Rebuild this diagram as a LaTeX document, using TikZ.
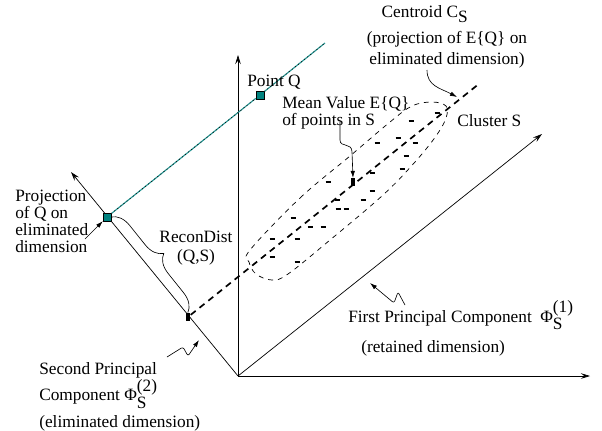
\documentclass[tikz,border=0pt]{standalone}
\usepackage{fontspec}
\setmainfont{Liberation Serif}
\usetikzlibrary{arrows.meta,decorations.pathreplacing,calc}
\definecolor{qteal}{HTML}{00827F}
\newcommand{\PhiS}[1]{Φ$^{\mbox{(#1)}}_{\mbox{S}}$}
\tikzset{
  axis/.style={draw=black, line width=0.5pt, -{Stealth[length=6.5pt,width=4pt,inset=2.5pt]}},
  ann/.style={line width=0.45pt, -{Latex[length=5pt,width=3.2pt]}},
  lbl/.style={inner sep=0pt, font=\rmfamily\fontsize{12.3pt}{12pt}\selectfont},
  qbox/.style={rectangle, draw=black, fill=qteal, line width=0.5pt, minimum size=5.5pt, inner sep=0pt},
  mbox/.style={rectangle, fill=black, minimum width=3.5pt, minimum height=5.5pt, inner sep=0pt},
  qline/.style={draw=qteal!85, line width=0.8pt, postaction={draw=black, line width=0.4pt, dash pattern=on 0.8pt off 2pt}},
  centline/.style={line width=1.2pt, dash pattern=on 4.5pt off 3.5pt},
  cluster/.style={draw=black, line width=0.5pt, dash pattern=on 3.5pt off 3.5pt},
  ptmark/.style={line width=1.3pt},
  recbrace/.style={decorate, decoration={brace, amplitude=13pt, aspect=0.5}, line width=0.45pt},
}
\begin{document}
\begin{tikzpicture}[x=0.025cm,y=-0.025cm]
  \useasboundingbox (0,0) rectangle (602,430);
  % axes
  \coordinate (O) at (238,376);
  \coordinate (vtop) at (238,55);
  \coordinate (hend) at (590,376);
  \coordinate (pc1) at (542,134);
  \coordinate (pc2) at (71,172);
  \draw[axis] (O) -- (vtop);
  \draw[axis] (O) -- (hend);
  \draw[axis] (O) -- (pc1);
  \draw[axis] (O) -- (pc2);
  % cluster S
  \draw[cluster] plot[smooth cycle, tension=0.6] coordinates {(250,250) (300,198) (350,156) (390,122) (412,106) (432,102) (446,106) (446,118) (436,136) (415,162) (383,195) (330,240) (288,274) (272,280) (256,274) (249,262)};
  \foreach \x/\y in {398/138, 415/143, 377/143, 406/156, 402/169, 372/173, 328/182, 372/191, 363/200, 337/200, 338/209, 346/209, 293/218, 310/227, 323/227, 272/239, 297/239, 272/257, 297/262, 437/113, 411/121}
    \draw[ptmark] (\x-2.5,\y) -- (\x+2.5,\y);
  % points
  \node[qbox] (proj) at (107,217) {};
  \node[qbox] (ptq) at (260,95) {};
  \node[mbox] (rec) at (188,317) {};
  \node[mbox] (mean) at (353,182) {};
  \coordinate (qend) at (325,43);
  \coordinate (cend) at (480,83);
  \draw[qline] (proj) -- (ptq);
  \draw[qline] (ptq) -- (qend);
  \draw[centline] (rec) -- (cend);
  \draw[recbrace] (proj.east) -- (rec.north);
  % labels
  \node[lbl, anchor=north west, align=left] (projlbl) at (15,190) {Projection\\of Q on\\eliminated\\dimension};
  \node[lbl, anchor=base west] (ptqlbl) at (247,86) {Point Q};
  \node[lbl, anchor=north west, align=left] (meanlbl) at (282,96) {Mean Value E\{Q\}\\of points in S};
  \node[lbl, anchor=base] (centlbl) at (425,17) {Centroid C$_{\mbox{S}}$};
  \node[lbl, anchor=north, align=center] (centnote) at (447,31) {(projection of E\{Q\} on\\[3pt]eliminated dimension)};
  \node[lbl, anchor=base west] (clulbl) at (457,126) {Cluster S};
  \node[lbl, anchor=north, align=center] (reclbl) at (196,231) {ReconDist\\[1.5pt](Q,S)};
  \node[lbl, anchor=north west, align=left] (pc2lbl) at (39,362) {Second Principal\\Component \PhiS{2}\\[4pt](eliminated dimension)};
  \node[lbl, anchor=base west] (pc1lbl) at (348,322) {First Principal Component\hspace{6pt}\PhiS{1}};
  \node[lbl, anchor=base west] (pc1note) at (361,352) {(retained dimension)};
  % annotation arrows
  \coordinate (projtail) at (85,239);
  \coordinate (centtail) at (427,70);
  \coordinate (centpt) at (457,97);
  \coordinate (meantail) at (340,122);
  \coordinate (pc2tail) at (167,357);
  \coordinate (pc2tip) at (199,340);
  \coordinate (pc1tail) at (405,305);
  \coordinate (pc1tip) at (370,283);
  \draw[ann] (projtail) -- (proj.south west);
  \draw[ann] (centtail) .. controls (427,86) and (440,88) .. (centpt);
  \draw[ann] (meantail) -- (340,140) .. controls (340,148) and (352,142) .. (352,152) -- (mean.north);
  \draw[ann, rounded corners=1.5pt] (pc2tail) -- (183,347) -- (188,356) -- (pc2tip);
  \draw[ann, rounded corners=1.5pt] (pc1tail) -- (398,292) -- (394,303) -- (pc1tip);
\end{tikzpicture}
\end{document}
